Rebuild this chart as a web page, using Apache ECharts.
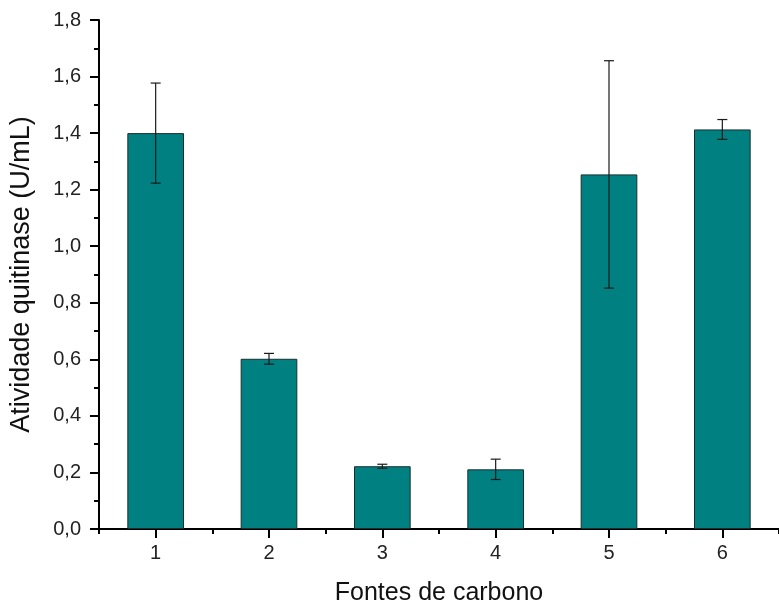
<!DOCTYPE html>
<html>
<head>
<meta charset="utf-8">
<script src="https://cdn.jsdelivr.net/npm/echarts@6/dist/echarts.min.js"></script>
<style>
html,body{margin:0;padding:0;background:#fff;}
#chart{width:779px;height:613px;}
</style>
</head>
<body>
<div id="chart"></div>
<script>
var categories = ['1', '2', '3', '4', '5', '6'];
var values = [1.400, 0.602, 0.222, 0.211, 1.254, 1.413];
var errors = [0.177, 0.019, 0.007, 0.036, 0.402, 0.035];
var yTicks = {min: 0, max: 1.8, interval: 0.2};

var chart = echarts.init(document.getElementById('chart'));
var font = '"Liberation Sans", Arial, sans-serif';
var errData = values.map(function (v, i) { return [i, v - errors[i], v + errors[i]]; });

chart.setOption({
  animation: false,
  backgroundColor: '#fff',
  grid: {left: 98, top: 20, width: 686, height: 509, containLabel: false},
  xAxis: [{
    type: 'category',
    data: categories,
    position: 'bottom',
    name: 'Fontes de carbono',
    nameLocation: 'middle',
    nameGap: 52,
    nameTextStyle: {fontFamily: font, fontSize: 25, color: '#111'},
    axisLine: {show: true, lineStyle: {color: '#000', width: 2}},
    axisTick: {show: true, alignWithLabel: true, length: 9, lineStyle: {color: '#000', width: 2}},
    axisLabel: {fontFamily: font, fontSize: 20, color: '#222', margin: 14},
    splitLine: {show: false}
  }, {
    type: 'category',
    data: categories,
    position: 'bottom',
    axisLine: {show: false},
    axisTick: {show: true, length: 5, interval: 0, lineStyle: {color: '#000', width: 2}},
    axisLabel: {show: false},
    splitLine: {show: false}
  }],
  yAxis: {
    type: 'value',
    min: yTicks.min,
    max: yTicks.max,
    interval: yTicks.interval,
    name: 'Atividade quitinase (U/mL)',
    nameLocation: 'middle',
    nameGap: 64,
    nameTextStyle: {fontFamily: font, fontSize: 27, color: '#111'},
    axisLine: {show: true, lineStyle: {color: '#000', width: 2}},
    axisTick: {show: true, length: 9, lineStyle: {color: '#000', width: 2}},
    minorTick: {show: true, splitNumber: 2, length: 5, lineStyle: {color: '#000', width: 2}},
    axisLabel: {
      fontFamily: font, fontSize: 20, color: '#222', margin: 18,
      formatter: function (v) { return v.toFixed(1).replace('.', ','); }
    },
    splitLine: {show: false},
    minorSplitLine: {show: false}
  },
  series: [{
    type: 'bar',
    data: values,
    barWidth: '50%',
    itemStyle: {color: '#008080', borderColor: '#1a2e2e', borderWidth: 1}
  }, {
    type: 'custom',
    data: errData,
    z: 10,
    renderItem: function (params, api) {
      var x = api.value(0);
      var lo = api.coord([x, api.value(1)]);
      var hi = api.coord([x, api.value(2)]);
      var hw = 5;
      var st = {stroke: '#1a1a1a', lineWidth: 1.2};
      return {
        type: 'group',
        children: [
          {type: 'line', shape: {x1: hi[0], y1: hi[1], x2: lo[0], y2: lo[1]}, style: st},
          {type: 'line', shape: {x1: hi[0] - hw, y1: hi[1], x2: hi[0] + hw, y2: hi[1]}, style: st},
          {type: 'line', shape: {x1: lo[0] - hw, y1: lo[1], x2: lo[0] + hw, y2: lo[1]}, style: st}
        ]
      };
    }
  }]
});
</script>
</body>
</html>
